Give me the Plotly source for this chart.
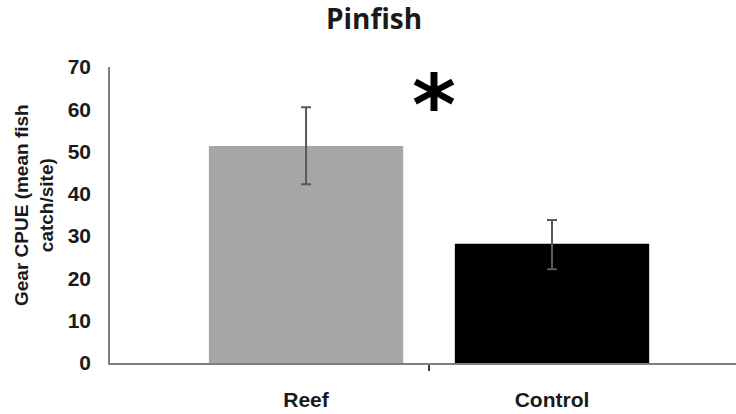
import plotly.graph_objects as go

categories = ["Reef", "Control"]
means = [51.3, 28.2]
err_plus = [9.2, 5.6]
err_minus = [9.0, 6.0]
bar_colors = ["#a6a6a6", "#000000"]
y_ticks = [0, 10, 20, 30, 40, 50, 60, 70]
title_text = "Pinfish"
y_title = "Gear CPUE (mean fish<br>catch/site)"
sig_marker = "*"

x_pos = list(range(len(categories)))
W, H = 736, 414
ML, MR, MT, MB = 110, 0, 67, 51
pw, ph = W - ML - MR, H - MT - MB

fig = go.Figure()
fig.add_trace(go.Bar(
    x=x_pos, y=means, width=0.79,
    marker=dict(color=bar_colors, line=dict(width=0)),
    error_y=dict(type="data", symmetric=False, array=err_plus, arrayminus=err_minus,
                 color="#5a5a5a", thickness=2, width=5),
    showlegend=False,
))

fig.add_annotation(x=(x_pos[0] + x_pos[1]) / 2, y=60.9, xref="x", yref="y",
                   xshift=5, text="<b>" + sig_marker + "</b>", showarrow=False,
                   yanchor="middle",
                   font=dict(family="DejaVu Sans", size=84, color="black"))

fig.add_annotation(x=(34 - ML) / pw, y=(H - MB - 205) / ph, xref="paper", yref="paper",
                   xanchor="center", yanchor="middle", textangle=-90,
                   text="<b>" + y_title + "</b>", showarrow=False,
                   font=dict(family="Liberation Sans", size=19, color="#1a1a1a"))

fig.update_layout(
    width=W, height=H,
    margin=dict(l=ML, r=MR, t=MT, b=MB),
    paper_bgcolor="white", plot_bgcolor="white",
    title=dict(text="<b>" + title_text + "</b>", x=374 / W, xanchor="center",
               y=1 - 19 / H, yanchor="middle",
               font=dict(family="Open Sans", size=28, color="#1a1a1a")),
)
fig.update_xaxes(
    range=[-0.797, 1.748], tickmode="array", tickvals=x_pos,
    ticktext=["<b>" + c + "</b>" for c in categories],
    ticks="", showline=True, linecolor="#7f7f7f", linewidth=1.5, showgrid=False, zeroline=False,
    tickfont=dict(family="Liberation Sans", size=21, color="#1a1a1a"),
    ticklabelstandoff=17,
    minor=dict(tickmode="array", tickvals=[(x_pos[0] + x_pos[1]) / 2], ticks="outside",
               ticklen=6, tickcolor="#404040", tickwidth=1.5),
)
fig.update_yaxes(
    range=[0, 70], tickmode="array", tickvals=y_ticks, ticktext=["<b>%d</b>" % v for v in y_ticks],
    ticks="", showline=True, linecolor="#7f7f7f", linewidth=1.5, showgrid=False, zeroline=False,
    tickfont=dict(family="Liberation Sans", size=21, color="#1a1a1a"),
    ticklabelstandoff=13,
)

fig.write_html("out.html")
